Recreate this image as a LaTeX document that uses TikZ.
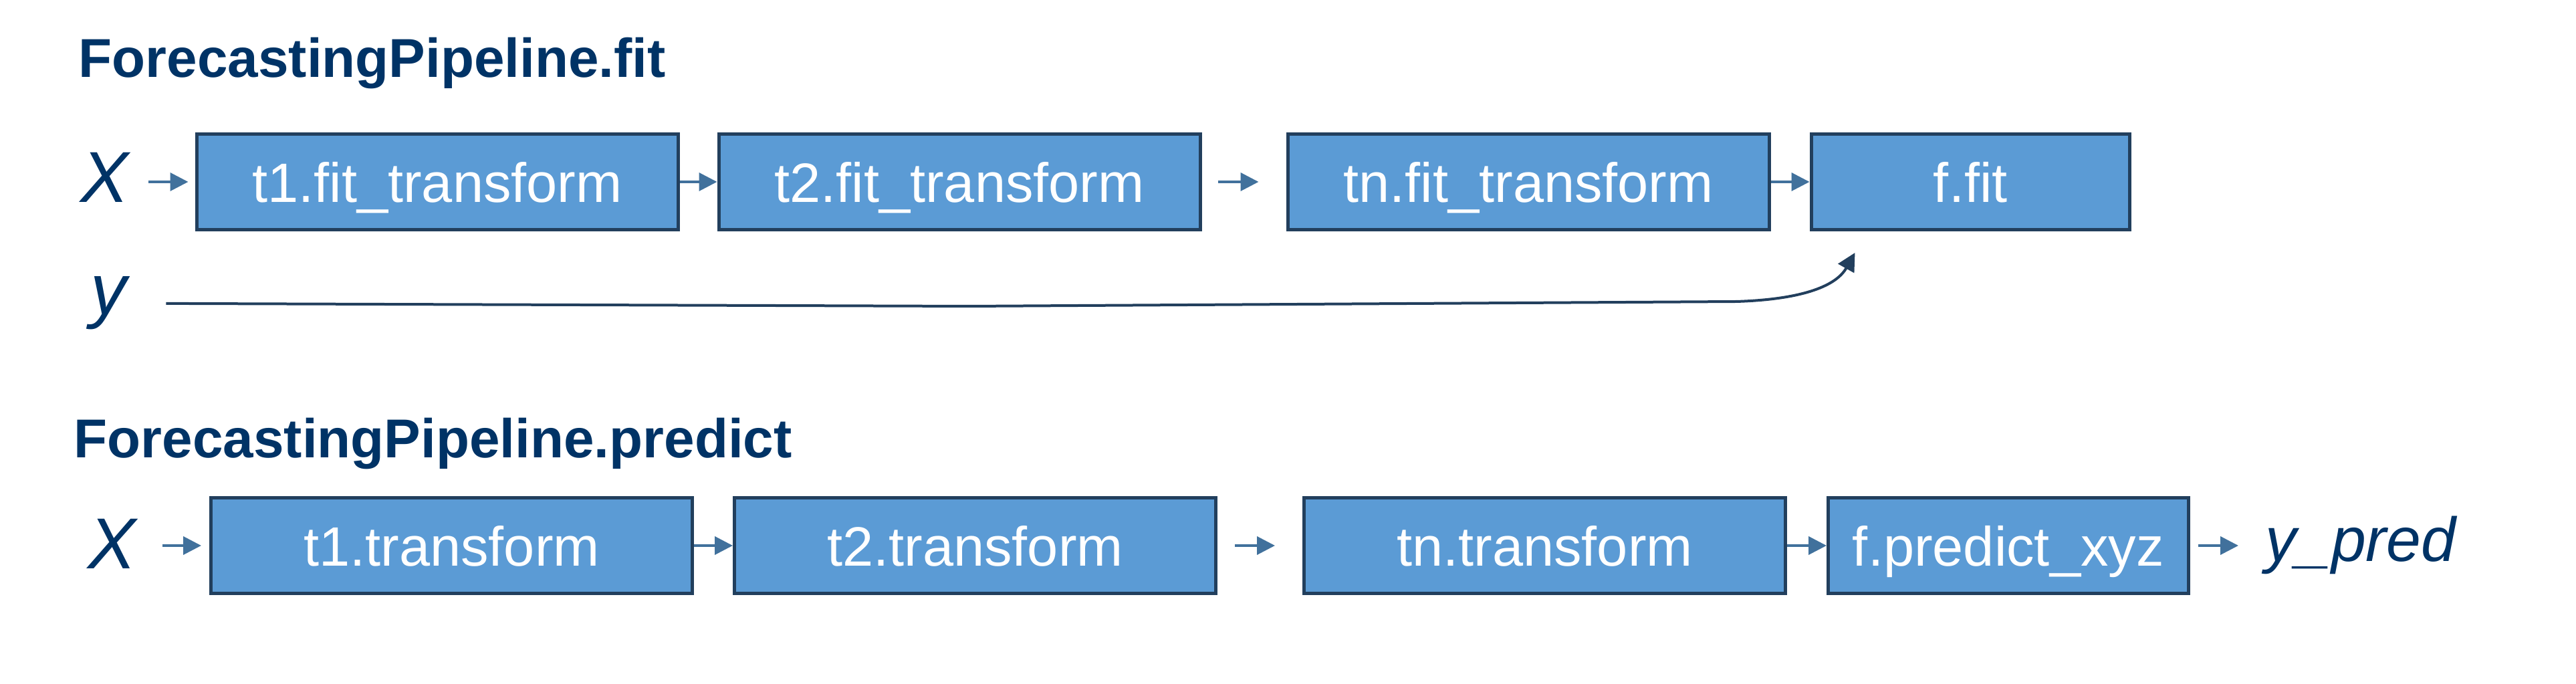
\documentclass[tikz,border=0pt]{standalone}
\usepackage{fontspec}
\setmainfont{Liberation Sans}
\usepackage{tikz}
\usetikzlibrary{positioning,arrows.meta}
\definecolor{boxfill}{HTML}{5B9BD5}
\definecolor{boxline}{HTML}{223F5D}
\definecolor{arrowblue}{HTML}{41719C}
\definecolor{navy}{HTML}{003366}

\begin{document}
\begin{tikzpicture}[>={Triangle[length=0.27cm,width=0.27cm]},
  pipe/.style={->,draw=arrowblue,line width=0.04cm},
  feed/.style={->,draw=boxline,line width=0.04cm}]
  \tikzstyle{stage} = [draw=boxline,line width=0.05cm,fill=boxfill,text=white,
    font=\fontsize{23.6}{28}\selectfont,minimum height=1.43cm,
    text height=0.61cm,text depth=0cm,inner sep=0pt]
  \tikzstyle{heading} = [anchor=base west,inner sep=0pt,text=navy,
    font=\fontsize{23.3}{28}\selectfont\bfseries]
  \tikzstyle{inlabel} = [anchor=base west,inner sep=0pt,text=navy,
    font=\fontsize{30.7}{36}\selectfont\itshape]
  \tikzstyle{outlabel} = [anchor=base west,inner sep=0pt,text=navy,
    font=\fontsize{26.5}{32}\selectfont\itshape]
  \useasboundingbox (0,0) rectangle (38.53,-10.23);

  % fit
  \node (fit_head) [heading] at (1.17,-1.16) {ForecastingPipeline.fit};
  \node (fit_x) [inlabel] at (1.20,-3.03) {X};
  \node (fit_y) [inlabel] at (1.35,-4.71) {y};
  \node (fit_1) [stage,minimum width=7.2cm] at (6.54,-2.72) {t1.fit\_transform};
  \node (fit_2) [stage,minimum width=7.2cm,right=0.56cm of fit_1] {t2.fit\_transform};
  \node (fit_n) [stage,minimum width=7.2cm,right=1.26cm of fit_2] {tn.fit\_transform};
  \node (fit_f) [stage,minimum width=4.765cm,right=0.58cm of fit_n] {f.fit};
  \draw[pipe,shorten <=0.29cm,shorten >=0.10cm] (fit_x.east |- fit_1.west) -- (fit_1.west);
  \draw[pipe] (fit_1) -- (fit_2);
  \draw[pipe,shorten <=0.24cm,shorten >=0.41cm] (fit_2) -- (fit_n);
  \draw[pipe] (fit_n) -- (fit_f);
  \coordinate (y_dip) at (14.5,-4.58);
  \coordinate (y_bend) at (25.97,-4.51);
  \coordinate (y_tip) at ([xshift=0.68cm,yshift=-0.32cm]fit_f.south west);
  \draw[feed,shorten <=0.58cm] (fit_y.east) -- (y_dip) -- (y_bend)
    .. controls (26.9,-4.48) and (27.45,-4.30) .. (y_tip);

  % predict
  \node (pred_head) [heading] at (1.10,-6.85) {ForecastingPipeline.predict};
  \node (pred_x) [inlabel] at (1.31,-8.51) {X};
  \node (pred_1) [stage,minimum width=7.2cm] at (6.755,-8.16) {t1.transform};
  \node (pred_2) [stage,minimum width=7.2cm,right=0.58cm of pred_1] {t2.transform};
  \node (pred_n) [stage,minimum width=7.2cm,right=1.27cm of pred_2] {tn.transform};
  \node (pred_f) [stage,minimum width=5.385cm,right=0.59cm of pred_n] {f.predict\_xyz};
  \node (pred_out) [outlabel] at (33.88,-8.40) {y\_pred};
  \draw[pipe,shorten <=0.39cm,shorten >=0.12cm] (pred_x.east |- pred_1.west) -- (pred_1.west);
  \draw[pipe] (pred_1) -- (pred_2);
  \draw[pipe,shorten <=0.26cm,shorten >=0.41cm] (pred_2) -- (pred_n);
  \draw[pipe] (pred_n) -- (pred_f);
  \draw[pipe,shorten <=0.12cm,shorten >=0.40cm] (pred_f.east) -- (pred_f.east -| pred_out.west);
\end{tikzpicture}
\end{document}
